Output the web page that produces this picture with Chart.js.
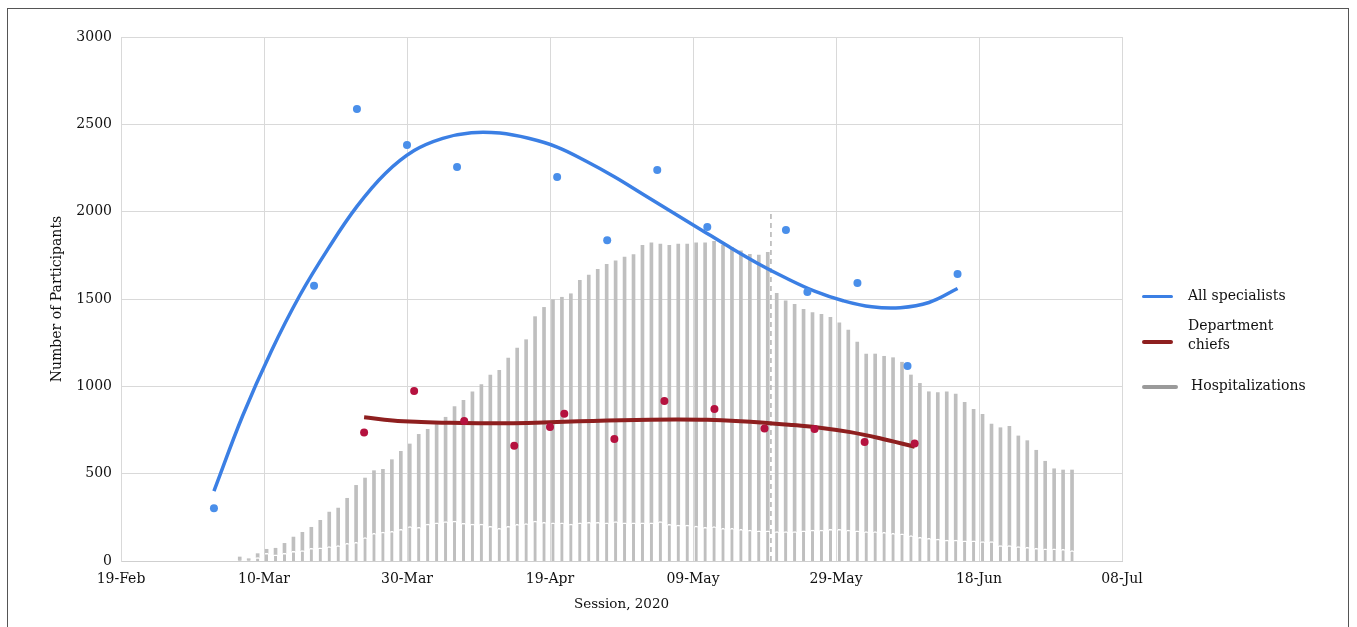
<!DOCTYPE html>
<html>
<head>
<meta charset="utf-8">
<script src="https://cdn.jsdelivr.net/npm/chart.js@4.4.1/dist/chart.umd.min.js"></script>
<style>
  html, body { margin: 0; padding: 0; width: 1357px; height: 627px; overflow: hidden; background: #fff; }
  #wrap { position: absolute; left: 0; top: 0; width: 1357px; height: 627px; }
  #frame { position: absolute; left: 7px; top: 8px; width: 1342px; height: 700px; border: 1.5px solid #555; box-sizing: border-box; pointer-events: none; }
  canvas { position: absolute; left: 0; top: 0; }
  .lg { position: absolute; font-family: "DejaVu Serif", serif; font-size: 14px; color: #111; line-height: 19px; }
  .sw { position: absolute; height: 3px; border-radius: 2px; }
</style>
</head>
<body>
<div id="wrap">
  <canvas id="c" width="1357" height="627"></canvas>
  <div id="frame"></div>
  <div class="sw" style="left:1142px;top:295px;width:31px;background:#3b7fe4;"></div>
  <div class="lg" style="left:1188px;top:286px;">All specialists</div>
  <div class="sw" style="left:1142px;top:340px;width:31px;height:4px;background:#8e1f1f;"></div>
  <div class="lg" style="left:1188px;top:316px;">Department<br>chiefs</div>
  <div class="sw" style="left:1142px;top:385px;width:36px;height:4px;background:#9a9a9a;"></div>
  <div class="lg" style="left:1191px;top:376px;">Hospitalizations</div>
</div>
<script>
// x axis: days since 19-Feb-2020
const xTickLabels = ['19-Feb', '10-Mar', '30-Mar', '19-Apr', '09-May', '29-May', '18-Jun', '08-Jul'];
const yTickStep = 500;

// All specialists: session day and participants
const specDays   = [13, 27, 33, 40, 47, 61, 68, 75, 82, 93, 96, 103, 110, 117];
const specValues = [302, 1576, 2588, 2382, 2256, 2198, 1837, 2238, 1912, 1895, 1540, 1591, 1116, 1643];

// Department chiefs
const chiefDays   = [34, 41, 48, 55, 60, 62, 69, 76, 83, 90, 97, 104, 111];
const chiefValues = [735, 973, 801, 660, 767, 843, 698, 916, 870, 759, 756, 681, 672];

// Trend line of all specialists
const specTrendDays   = [13, 17, 21, 25, 29, 33, 37, 41, 45, 49, 53, 57, 61, 65, 69, 73, 77, 81, 85, 89, 93, 97, 101, 105, 109, 113, 117];
const specTrendValues = [400, 830, 1200, 1520, 1790, 2030, 2220, 2350, 2420, 2452, 2450, 2420, 2370, 2290, 2200, 2100, 2000, 1900, 1800, 1705, 1620, 1545, 1490, 1455, 1450, 1480, 1560];

// Trend line of department chiefs
const chiefTrendDays   = [34, 38, 42, 46, 50, 54, 58, 62, 66, 70, 74, 78, 82, 86, 90, 94, 98, 102, 106, 111];
const chiefTrendValues = [823, 805, 796, 791, 789, 789, 792, 797, 802, 806, 809, 810, 808, 802, 792, 778, 762, 738, 704, 654];

// Hospitalizations (daily bars): total height and lower (white-separated) part
const hospTotal = [23, 13, 42, 67, 73, 101, 137, 164, 193, 233, 280, 303, 359, 433, 475, 517, 525, 580, 628, 670,
  725, 754, 782, 823, 884, 920, 968, 1010, 1065, 1092, 1162, 1219, 1267, 1399, 1452, 1496, 1510, 1530, 1607, 1637,
  1670, 1698, 1719, 1740, 1754, 1807, 1822, 1815, 1807, 1815, 1815, 1822, 1822, 1830, 1809, 1794, 1776, 1756, 1752, 1767,
  1532, 1490, 1469, 1441, 1422, 1412, 1395, 1364, 1322, 1254, 1185, 1185, 1172, 1164, 1138, 1065, 1017, 969, 964, 969,
  956, 908, 868, 840, 784, 763, 771, 716, 689, 634, 571, 528, 521, 521];
const hospLower = [5, 5, 20, 44, 36, 44, 55, 59, 73, 76, 82, 88, 101, 107, 134, 158, 166, 170, 182, 197,
  193, 212, 218, 225, 229, 216, 212, 212, 199, 187, 199, 210, 214, 229, 222, 218, 218, 212, 218, 222,
  222, 218, 225, 218, 218, 218, 218, 225, 210, 206, 206, 200, 193, 197, 187, 187, 181, 177, 173, 173,
  168, 168, 168, 173, 177, 177, 181, 181, 177, 173, 168, 168, 164, 158, 155, 145, 136, 130, 126, 120,
  120, 116, 116, 111, 111, 88, 88, 82, 78, 73, 69, 69, 67, 59];

// Vertical dashed marker
const markerDay = 90.9;
const markerTop = 2000;

const pts = (xs, ys) => xs.map((x, i) => ({ x: x, y: ys[i] }));
const font = { family: 'DejaVu Serif', size: 14 };

new Chart(document.getElementById('c'), {
  data: {
    datasets: [
      { type: 'scatter', label: 'All specialists', data: pts(specDays, specValues), xAxisID: 'x', yAxisID: 'y',
        backgroundColor: '#4a8fea', borderColor: '#4a8fea', pointRadius: 4, pointBorderWidth: 0, order: 0 },
      { type: 'scatter', label: 'Department chiefs', data: pts(chiefDays, chiefValues), xAxisID: 'x', yAxisID: 'y',
        backgroundColor: '#b5123f', borderColor: '#b5123f', pointRadius: 4, pointBorderWidth: 0, order: 0 },
      { type: 'line', label: 'All specialists trend', data: pts(specTrendDays, specTrendValues), xAxisID: 'x', yAxisID: 'y',
        borderColor: '#3b7fe4', borderWidth: 3.5, pointRadius: 0, tension: 0.4, fill: false, order: 1 },
      { type: 'line', label: 'Department chiefs trend', data: pts(chiefTrendDays, chiefTrendValues), xAxisID: 'x', yAxisID: 'y',
        borderColor: '#8e1f1f', borderWidth: 4, pointRadius: 0, tension: 0.4, fill: false, order: 1 },
      { type: 'line', label: 'marker', data: [{ x: markerDay, y: 0 }, { x: markerDay, y: markerTop }], xAxisID: 'x', yAxisID: 'y',
        borderColor: '#b3b3b3', borderWidth: 1.5, borderDash: [5, 4], pointRadius: 0, order: 2 },
      { type: 'bar', label: 'Hospitalizations', data: hospLower.map((v, i) => ({ x: i, y: v })), xAxisID: 'x2', yAxisID: 'y2',
        backgroundColor: '#bfbfbf', borderColor: '#ffffff', borderWidth: { top: 1.5, left: 0, right: 0, bottom: 0 },
        barThickness: 3, stack: 'h', order: 10 },
      { type: 'bar', label: 'Hospitalizations upper', data: hospTotal.map((v, i) => ({ x: i, y: v - hospLower[i] })), xAxisID: 'x2', yAxisID: 'y2',
        backgroundColor: '#bfbfbf', borderWidth: 0, barThickness: 3, stack: 'h', order: 10 }
    ]
  },
  options: {
    responsive: false,
    animation: false,
    events: [],
    layout: { padding: { top: 37, right: 235, bottom: 0, left: 0 } },
    plugins: { legend: { display: false }, tooltip: { enabled: false } },
    scales: {
      x: {
        type: 'linear', min: 0, max: 140,
        afterFit: s => { s.height = 66; },
        ticks: { stepSize: 20, color: '#111', font: font, padding: 10, maxRotation: 0,
          callback: v => xTickLabels[Math.round(v / 20)] },
        grid: { color: '#d9d9d9', drawTicks: false, lineWidth: 1 },
        border: { color: '#cfcfcf' },
        title: { display: true, text: 'Session, 2020', color: '#111', font: { family: 'DejaVu Serif', size: 13.5 }, padding: { top: 0, bottom: 14 } }
      },
      y: {
        type: 'linear', min: 0, max: 3000,
        afterFit: s => { s.width = 121; },
        ticks: { stepSize: yTickStep, color: '#111', font: font, padding: 9, callback: v => String(v) },
        grid: { color: '#d9d9d9', drawTicks: false, lineWidth: 1 },
        border: { color: '#d9d9d9' },
        title: { display: true, text: 'Number of Participants', color: '#111', font: { family: 'DejaVu Serif', size: 14 }, padding: { top: 49, bottom: 0 } }
      },
      x2: { type: 'linear', display: false, min: -13.1, max: 98.75, stacked: true, offset: false },
      y2: { type: 'linear', display: false, min: 0, max: 3000, stacked: true }
    }
  }
});
</script>
</body>
</html>
